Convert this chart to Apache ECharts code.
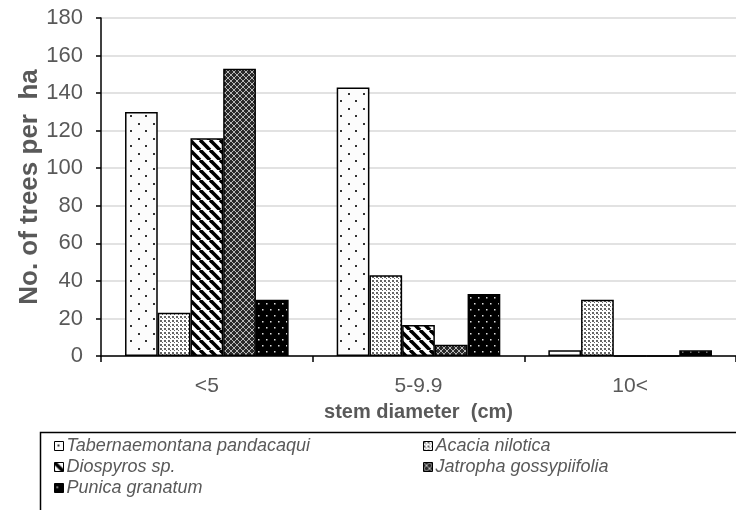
<!DOCTYPE html>
<html><head><meta charset="utf-8">
<script src="https://cdn.jsdelivr.net/npm/echarts@6/dist/echarts.min.js"></script>
<style>html,body{margin:0;padding:0;background:#fff}#c{width:736px;height:510px}</style>
</head><body><div id="c"></div>
<script>
const categories = ['<5', '5-9.9', '10<'];
const seriesNames = ['Tabernaemontana pandacaqui', 'Acacia nilotica', 'Diospyros sp.', 'Jatropha gossypiifolia', 'Punica granatum'];
const tabernaemontana = [130, 143, 3];
const acacia = [23, 43, 30];
const diospyros = [116, 16.5, 0];
const jatropha = [153, 6, 0];
const punica = [30, 33, 3];
const yTicks = [0, 20, 40, 60, 80, 100, 120, 140, 160, 180];
const values = [tabernaemontana, acacia, diospyros, jatropha, punica];

function pat(w, h, draw) {
  const c = document.createElement('canvas'); c.width = w; c.height = h;
  const x = c.getContext('2d'); draw(x); return { image: c, repeat: 'repeat' };
}
const patterns = [
  pat(15, 15, x => { x.fillStyle = '#fcfcfc'; x.fillRect(0,0,15,15); x.fillStyle = '#333';
    x.fillRect(3,3,2,2); x.fillRect(10,10,2,2); }),
  pat(4, 4, x => { x.fillStyle = '#fff'; x.fillRect(0,0,4,4); x.fillStyle = '#666';
    x.fillRect(0,0,2,2); x.fillRect(2,2,1,1); }),
  pat(10, 10, x => { x.fillStyle = '#fff'; x.fillRect(0,0,10,10); x.strokeStyle = '#000'; x.lineWidth = 3.6;
    for (const o of [-10, 0, 10]) { x.beginPath(); x.moveTo(o, 0); x.lineTo(o + 10, 10); x.stroke(); } }),
  pat(6, 6, x => { x.fillStyle = '#2a2a2a'; x.fillRect(0,0,6,6); x.fillStyle = '#b8b8b8';
    for (let i = 0; i < 6; i++) { x.fillRect(i, i, 1, 1); x.fillRect(5 - i, i, 1, 1); } }),
  pat(8, 12, x => { x.fillStyle = '#000'; x.fillRect(0,0,8,12); x.fillStyle = '#ddd';
    x.fillRect(2,3,1.5,1.5); x.fillRect(6,9,1.5,1.5); })
];

const font = 'Liberation Sans, Arial, sans-serif';
const txt = '#595959';
const series = seriesNames.map((n, i) => ({
  name: n, type: 'bar', data: values[i], barGap: '0%', barCategoryGap: '22.7%',
  itemStyle: { color: patterns[i], borderColor: '#000', borderWidth: 1.5 }
}));
const legPos = [[54, 437], [423, 437], [54, 458], [423, 458], [54, 479]];
const legends = seriesNames.map((n, i) => ({
  data: [n], left: legPos[i][0], top: legPos[i][1], itemWidth: 9, itemHeight: 9, itemGap: 4,
  icon: 'rect', padding: 0,
  itemStyle: { borderColor: '#000', borderWidth: 1 },
  textStyle: { fontFamily: font, fontSize: 18, fontStyle: 'italic', color: txt, padding: [0,0,0,-2] },
  selectedMode: false
}));

const chart = echarts.init(document.getElementById('c'), null, { renderer: 'canvas' });
chart.setOption({
  animation: false,
  backgroundColor: '#fff',
  grid: { left: 101, top: 18, width: 648, height: 338 },
  legend: legends,
  xAxis: {
    type: 'category', data: categories,
    name: 'stem diameter  (cm)', nameLocation: 'middle', nameGap: 46,
    nameTextStyle: { fontFamily: font, fontSize: 20, fontWeight: 'bold', color: txt },
    axisLine: { lineStyle: { color: '#000', width: 1.5 } },
    axisTick: { show: true, length: 6, lineStyle: { color: '#000', width: 1.5 } },
    axisLabel: { fontFamily: font, fontSize: 21, color: txt, margin: 20 }
  },
  yAxis: {
    type: 'value', min: yTicks[0], max: yTicks[yTicks.length - 1], interval: 20,
    name: 'No. of trees per  ha', nameLocation: 'middle', nameGap: 58, nameMoveOverlap: false,
    nameTextStyle: { fontFamily: font, fontSize: 26, fontWeight: 'bold', color: txt },
    axisLine: { show: true, lineStyle: { color: '#000', width: 1.5 } },
    axisTick: { show: true, length: 5, lineStyle: { color: '#000', width: 1.5 } },
    axisLabel: { fontFamily: font, fontSize: 22, color: txt, margin: 18 },
    splitLine: { lineStyle: { color: '#d9d9d9', width: 1.5 } }
  },
  graphic: [{ type: 'rect', shape: { x: 40.5, y: 432.5, width: 720, height: 120 },
    style: { fill: 'none', stroke: '#000', lineWidth: 1.5 }, z: 0 }],
  series: series
});
</script></body></html>
